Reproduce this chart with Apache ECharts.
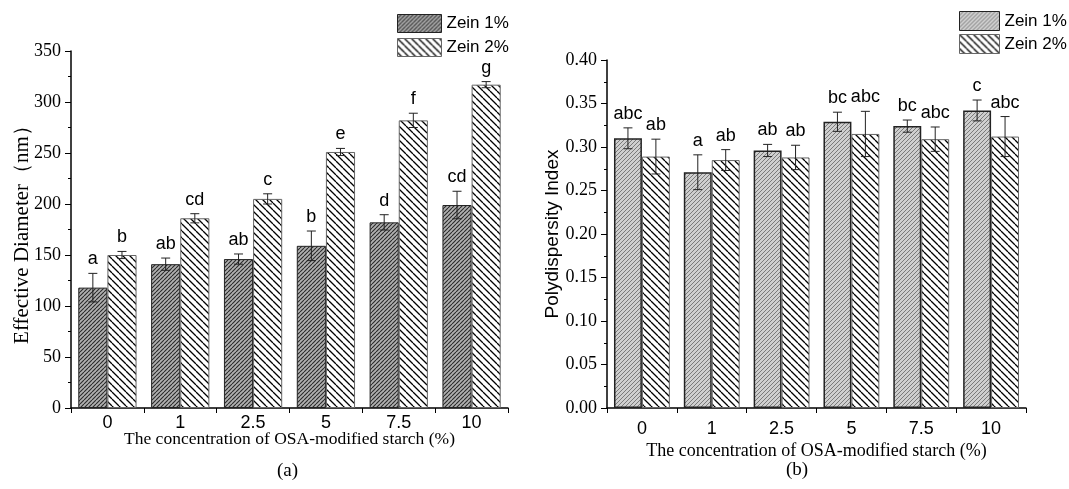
<!DOCTYPE html>
<html>
<head>
<meta charset="utf-8">
<script src="https://cdn.jsdelivr.net/npm/echarts@6/dist/echarts.min.js"></script>
<style>html,body{margin:0;padding:0;background:#fff}#c{width:1069px;height:489px}</style>
</head>
<body>
<div id="c"></div>
<script>
// ---------- DATA ----------
const categories = ['0', '1', '2.5', '5', '7.5', '10'];
const seriesNames = ['Zein 1%', 'Zein 2%'];

// Panel (a): Effective Diameter (nm)
const diamZein1 = [118, 141, 146, 159, 182, 199];
const diamZein2 = [150, 186, 205, 251, 282, 317];
const diamErr1 = [14, 6, 5, 14.5, 7.5, 13.5];
const diamErr2 = [3.5, 4.5, 5, 3.5, 7, 3];
const diamLetters1 = ['a', 'ab', 'ab', 'b', 'd', 'cd'];
const diamLetters2 = ['b', 'cd', 'c', 'e', 'f', 'g'];

// Panel (b): Polydispersity Index
const pdiZein1 = [0.310, 0.271, 0.296, 0.329, 0.324, 0.342];
const pdiZein2 = [0.289, 0.285, 0.288, 0.315, 0.309, 0.312];
const pdiErr1 = [0.012, 0.020, 0.007, 0.011, 0.007, 0.012];
const pdiErr2 = [0.020, 0.012, 0.014, 0.026, 0.014, 0.023];
const pdiLetters1 = ['abc', 'a', 'ab', 'bc', 'bc', 'c'];
const pdiLetters2 = ['ab', 'ab', 'ab', 'abc', 'abc', 'abc'];

const panelLabels = ['(a)', '(b)'];
const xTitle = 'The concentration of OSA-modified starch (%)';
const yTitleA = 'Effective Diameter（nm）';
const yTitleB = 'Polydispersity Index';

// ---------- STYLE HELPERS ----------
const SERIF = "'Liberation Serif','Times New Roman',serif";
const SANS = "'Liberation Sans',Arial,sans-serif";

function hatch(bg, line, period, width, dir) {
  const cv = document.createElement('canvas');
  cv.width = period; cv.height = period;
  const ctx = cv.getContext('2d');
  ctx.fillStyle = bg; ctx.fillRect(0, 0, period, period);
  ctx.strokeStyle = line; ctx.lineWidth = width;
  ctx.beginPath();
  for (let k = -1; k <= 1; k++) {
    if (dir === '/') {
      ctx.moveTo(k * period, period); ctx.lineTo(k * period + period, 0);
    } else {
      ctx.moveTo(k * period, 0); ctx.lineTo(k * period + period, period);
    }
  }
  ctx.stroke();
  return { image: cv, repeat: 'repeat' };
}
const patDark = hatch('#b0b0b0', '#2a2a2a', 4, 1.1, '/');
const patLight = hatch('#cfcfcf', '#7a7a7a', 4, 1.0, '/');
const patWhite = hatch('#ffffff', '#000000', 7, 1.3, '\\');

function errRenderer(vals, errs, letters, side) {
  return function (params, api) {
    const i = params.dataIndex;
    const v = vals[i], e = errs[i];
    const catW = api.size([1, 0])[0];
    const c = api.coord([i, v]);
    const cx = c[0] + side * catW * 0.2;
    const yt = api.coord([i, v + e])[1];
    const yb = api.coord([i, v - e])[1];
    const cap = 4.5;
    const ls = { stroke: '#222', lineWidth: 1 };
    return {
      type: 'group',
      children: [
        { type: 'line', shape: { x1: cx, y1: yt, x2: cx, y2: yb }, style: ls },
        { type: 'line', shape: { x1: cx - cap, y1: yt, x2: cx + cap, y2: yt }, style: ls },
        { type: 'line', shape: { x1: cx - cap, y1: yb, x2: cx + cap, y2: yb }, style: ls },
        { type: 'text', style: { text: letters[i], x: cx, y: yt - 14, align: 'center', verticalAlign: 'middle', font: '18px ' + SANS, fill: '#000' } }
      ]
    };
  };
}

function xAxisCfg(gridIndex, nameGap, labelMargin, nameSize) {
  return {
    type: 'category', gridIndex, data: categories,
    name: xTitle, nameLocation: 'middle', nameGap, nameMoveOverlap: false,
    nameTextStyle: { fontFamily: SERIF, fontSize: nameSize, color: '#000' },
    axisLine: { lineStyle: { color: '#000', width: 1.5 } },
    axisTick: { show: true, length: 5, lineStyle: { color: '#000' } },
    axisLabel: { fontFamily: SANS, fontSize: 18, color: '#000', margin: labelMargin }
  };
}
function yAxisCfg(gridIndex, min, max, interval, name, nameFont, nameSize, nameGap, fmt) {
  return {
    type: 'value', gridIndex, min, max, interval,
    name, nameLocation: 'middle', nameGap, nameMoveOverlap: false,
    nameTextStyle: { fontFamily: nameFont, fontSize: nameSize, color: '#000' },
    axisLine: { show: true, lineStyle: { color: '#000', width: 1.5 } },
    axisTick: { show: true, length: 6, lineStyle: { color: '#000' } },
    minorTick: { show: true, splitNumber: 2, length: 3, lineStyle: { color: '#000' } },
    splitLine: { show: false },
    axisLabel: { fontFamily: SERIF, fontSize: 18, color: '#000', margin: 10, formatter: fmt }
  };
}

function barSeries(name, data, xi, color, border, bw) {
  return {
    type: 'bar', name, data, xAxisIndex: xi, yAxisIndex: xi,
    barGap: '0%', barCategoryGap: '20%',
    itemStyle: { color, borderColor: border, borderWidth: bw },
    emphasis: { disabled: true }
  };
}
function errSeries(name, vals, errs, letters, xi, side) {
  return {
    type: 'custom', name, xAxisIndex: xi, yAxisIndex: xi, z: 5,
    data: vals.map((v, i) => [i, v]),
    renderItem: errRenderer(vals, errs, letters, side),
    silent: true
  };
}

const chart = echarts.init(document.getElementById('c'), null, { renderer: 'canvas' });
chart.setOption({
  animation: false,
  backgroundColor: '#fff',
  grid: [
    { left: 71, top: 51, width: 437, height: 357 },
    { left: 607, top: 60, width: 419, height: 348 }
  ],
  xAxis: [xAxisCfg(0, 22, 6, 17.5), xAxisCfg(1, 34, 12, 18)],
  yAxis: [
    yAxisCfg(0, 0, 350, 50, yTitleA, SERIF, 21, 38, v => String(v)),
    yAxisCfg(1, 0, 0.40, 0.05, yTitleB, SANS, 19, 45, v => v.toFixed(2))
  ],
  legend: [
    {
      orient: 'vertical', left: 392, top: 9, itemWidth: 44, itemHeight: 18, itemGap: 5,
      icon: 'rect', textStyle: { fontFamily: SANS, fontSize: 17, color: '#000' },
      data: [
        { name: seriesNames[0], itemStyle: { color: patDark, borderColor: '#222', borderWidth: 1 } },
        { name: seriesNames[1], itemStyle: { color: patWhite, borderColor: '#666', borderWidth: 1 } }
      ]
    },
    {
      orient: 'vertical', left: 954, top: 6, itemWidth: 40, itemHeight: 19, itemGap: 3,
      icon: 'rect', textStyle: { fontFamily: SANS, fontSize: 17, color: '#000' },
      data: [
        { name: seriesNames[0], itemStyle: { color: patLight, borderColor: '#222', borderWidth: 1 } },
        { name: seriesNames[1], itemStyle: { color: patWhite, borderColor: '#666', borderWidth: 1 } }
      ]
    }
  ],
  series: [
    barSeries(seriesNames[0], diamZein1, 0, patDark, '#222', 1),
    barSeries(seriesNames[1], diamZein2, 0, patWhite, '#666', 1),
    barSeries(seriesNames[0], pdiZein1, 1, patLight, '#222', 1.5),
    barSeries(seriesNames[1], pdiZein2, 1, patWhite, '#666', 1),
    errSeries(seriesNames[0], diamZein1, diamErr1, diamLetters1, 0, -1),
    errSeries(seriesNames[1], diamZein2, diamErr2, diamLetters2, 0, 1),
    errSeries(seriesNames[0], pdiZein1, pdiErr1, pdiLetters1, 1, -1),
    errSeries(seriesNames[1], pdiZein2, pdiErr2, pdiLetters2, 1, 1)
  ],
  graphic: [
    { type: 'text', left: 277, top: 462, style: { text: panelLabels[0], font: '19px ' + SERIF, fill: '#000' } },
    { type: 'text', left: 786, top: 461, style: { text: panelLabels[1], font: '19px ' + SERIF, fill: '#000' } }
  ]
});
</script>
</body>
</html>
